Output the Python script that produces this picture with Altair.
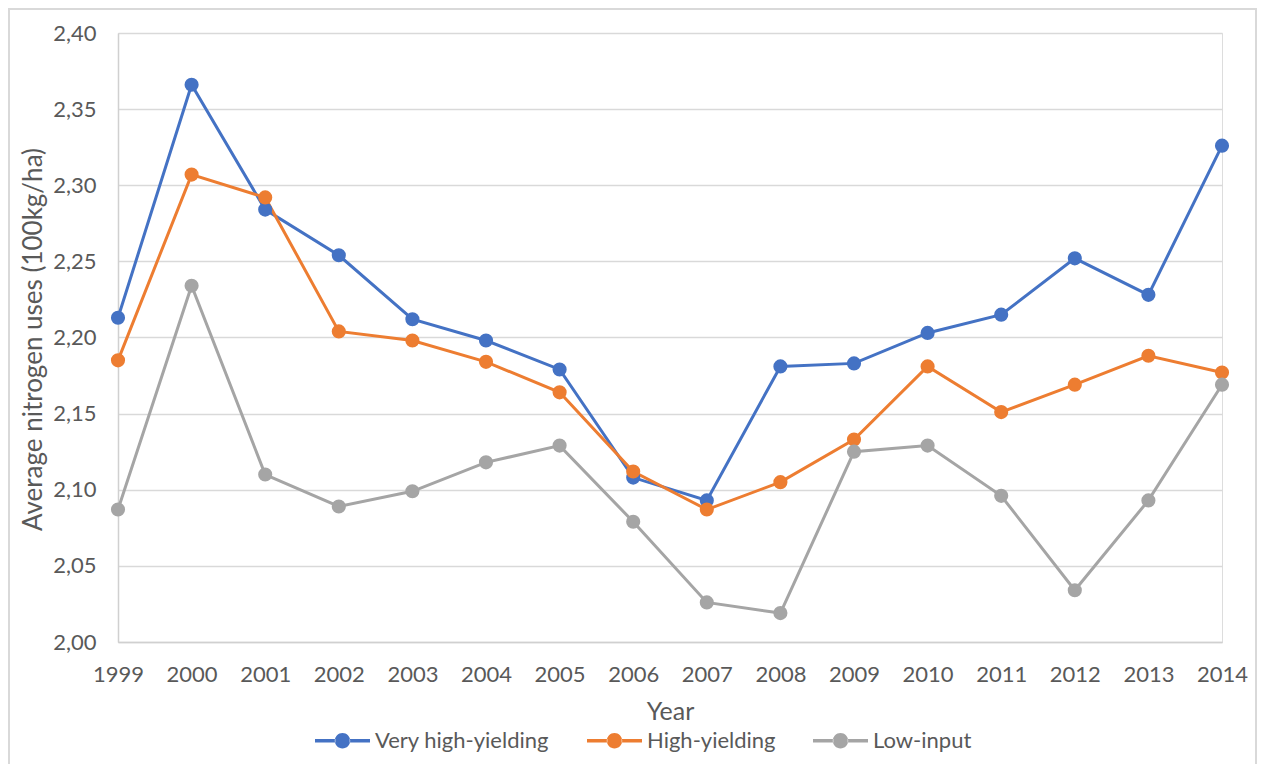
import altair as alt
import pandas as pd

years = list(range(1999, 2015))
series_names = ["Very high-yielding", "High-yielding", "Low-input"]
very_high = [2.213, 2.366, 2.284, 2.254, 2.212, 2.198, 2.179, 2.108, 2.093, 2.181, 2.183, 2.203, 2.215, 2.252, 2.228, 2.326]
high = [2.185, 2.307, 2.292, 2.204, 2.198, 2.184, 2.164, 2.112, 2.087, 2.105, 2.133, 2.181, 2.151, 2.169, 2.188, 2.177]
low = [2.087, 2.234, 2.110, 2.089, 2.099, 2.118, 2.129, 2.079, 2.026, 2.019, 2.125, 2.129, 2.096, 2.034, 2.093, 2.169]
colors = ["#4472C4", "#ED7D31", "#A5A5A5"]
y_ticks = [2.00, 2.05, 2.10, 2.15, 2.20, 2.25, 2.30, 2.35, 2.40]

rows = []
for name, vals in zip(series_names, [very_high, high, low]):
    for yr, v in zip(years, vals):
        rows.append({"Year": yr, "Value": v, "Series": name})
df = pd.DataFrame(rows)

FONT = "Lato"
TXT = "#595959"

legend_path = ("M-1,-0.065 L-0.26,-0.065 L-0.26,0.065 L-1,0.065 Z "
               "M0.26,-0.065 L1,-0.065 L1,0.065 L0.26,0.065 Z "
               "M-0.28,0 A0.28,0.28 0 1,0 0.28,0 A0.28,0.28 0 1,0 -0.28,0 Z")

x_enc = alt.X("Year:Q",
              scale=alt.Scale(domain=[1999, 2014], nice=False, zero=False),
              axis=alt.Axis(values=years, format="d", grid=False, ticks=False, tickSize=0,
                            labelPadding=22, labelFontSize=22, labelColor=TXT, labelFont=FONT,
                            title="Year", titleFontSize=25, titleFont=FONT, titleColor=TXT,
                            titleFontWeight="normal", titleY=69, titleBaseline="middle",
                            domainColor="#D0D0D0", domainWidth=1.5, labelFlush=False))
y_enc = alt.Y("Value:Q",
              scale=alt.Scale(domain=[2.0, 2.4], nice=False, zero=False),
              axis=alt.Axis(values=y_ticks, labelExpr="replace(format(datum.value, '.2f'), '.', ',')",
                            grid=True, gridColor="#D9D9D9", gridWidth=1.5, ticks=False, tickSize=0,
                            labelPadding=22, labelFontSize=22, labelColor=TXT, labelFont=FONT,
                            title="Average nitrogen uses (100kg/ha)", titleFontSize=26, titleFont=FONT,
                            titleColor=TXT, titleFontWeight="normal", titleX=-85, titleY=306,
                            titleBaseline="middle",
                            domainColor="#D0D0D0", domainWidth=1.5))
color_scale = alt.Scale(domain=series_names, range=colors)

base = alt.Chart(df)
lines = base.mark_line(strokeWidth=3).encode(
    x=x_enc, y=y_enc,
    color=alt.Color("Series:N", scale=color_scale,
                    legend=alt.Legend(orient="none", legendX=197, legendY=680,
                                      direction="horizontal", title=None,
                                      symbolType=legend_path, symbolSize=3025,
                                      symbolStrokeWidth=0, symbolOpacity=1,
                                      labelFontSize=22, labelFont=FONT, labelColor=TXT,
                                      labelLimit=400, labelOffset=5, columnPadding=37)),
)
points = base.mark_point(filled=True, size=200, opacity=1, strokeWidth=0).encode(
    x="Year:Q", y="Value:Q",
    color=alt.Color("Series:N", scale=color_scale),
)
frame = alt.Chart(pd.DataFrame({"f": [0]})).mark_rect(
    filled=False, stroke="#D9D9D9", strokeWidth=2, fill=None
).encode(x=alt.value(-109), x2=alt.value(1138), y=alt.value(-24), y2=alt.value(760))

chart = alt.layer(frame, lines, points).properties(
    width=1104, height=609,
    autosize=alt.AutoSizeParams(type="none"),
    padding={"left": 110, "top": 25, "right": 35, "bottom": 122},
).configure_view(stroke=None).configure(background="white")

chart.save("out.html", embed_options={"renderer": "svg", "actions": False})
